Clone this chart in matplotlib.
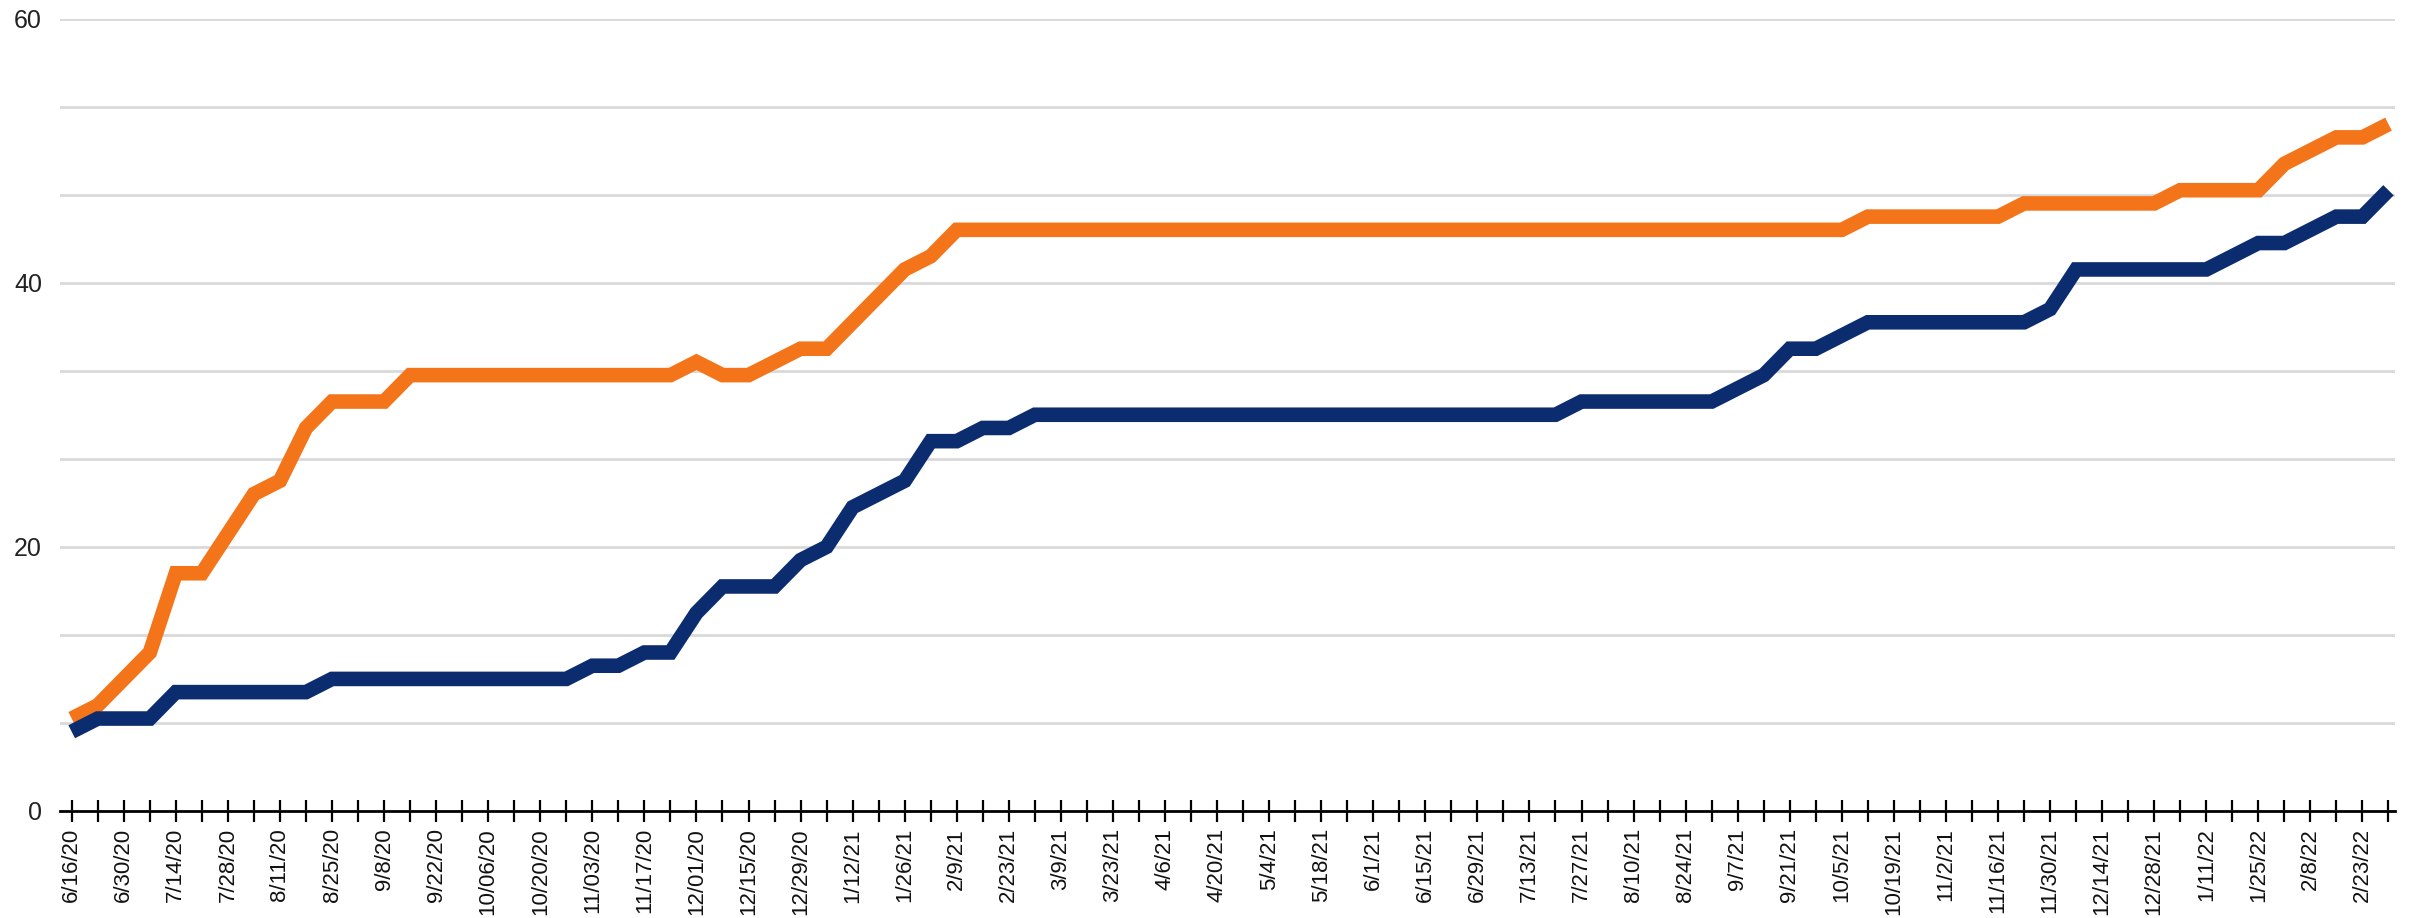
import matplotlib
matplotlib.use("Agg")
import matplotlib.pyplot as plt

plt.rcParams['font.family'] = ['Liberation Sans', 'DejaVu Sans']

# every other week gets a label (categories are weekly)
week_labels = ["6/16/20", "6/30/20", "7/14/20", "7/28/20", "8/11/20", "8/25/20",
               "9/8/20", "9/22/20", "10/06/20", "10/20/20", "11/03/20", "11/17/20",
               "12/01/20", "12/15/20", "12/29/20", "1/12/21", "1/26/21", "2/9/21",
               "2/23/21", "3/9/21", "3/23/21", "4/6/21", "4/20/21", "5/4/21",
               "5/18/21", "6/1/21", "6/15/21", "6/29/21", "7/13/21", "7/27/21",
               "8/10/21", "8/24/21", "9/7/21", "9/21/21", "10/5/21", "10/19/21",
               "11/2/21", "11/16/21", "11/30/21", "12/14/21", "12/28/21", "1/11/22",
               "1/25/22", "2/8/22", "2/23/22"]

orange_vals = [7, 8, 10, 12, 18, 18, 21, 24, 25, 29, 31, 31, 31,
               33, 33, 33, 33, 33, 33, 33, 33, 33, 33, 33,
               34, 33, 33, 34, 35, 35, 37, 39, 41, 42,
               44, 44, 44, 44, 44, 44, 44, 44, 44, 44, 44, 44,
               44, 44, 44, 44, 44, 44, 44, 44, 44, 44, 44, 44,
               44, 44, 44, 44, 44, 44, 44, 44, 44, 44, 44,
               45, 45, 45, 45, 45, 45,
               46, 46, 46, 46, 46, 46,
               47, 47, 47, 47,
               49, 50, 51, 51, 52]

blue_vals = [6, 7, 7, 7, 9, 9, 9, 9, 9, 9,
             10, 10, 10, 10, 10, 10, 10, 10, 10, 10,
             11, 11, 12, 12, 15, 17, 17, 17, 19, 20, 23, 24, 25, 28, 28, 29, 29,
             30, 30, 30, 30, 30, 30, 30, 30, 30, 30, 30,
             30, 30, 30, 30, 30, 30, 30, 30, 30, 30,
             31, 31, 31, 31, 31, 31,
             32, 33, 35, 35, 36,
             37, 37, 37, 37, 37, 37, 37,
             38, 41, 41, 41, 41, 41, 41,
             42, 43, 43, 44, 45, 45, 47]

x = list(range(len(orange_vals)))
tick_text = []
for i in x:
    if i % 2 == 0 and i // 2 < len(week_labels):
        tick_text.append(week_labels[i // 2])
    else:
        tick_text.append("")

fig = plt.figure(figsize=(24.12, 9.18), dpi=100)
ax = fig.add_axes([60 / 2412, (918 - 811) / 918, (2395 - 60) / 2412, (811 - 18.5) / 918])

ax.plot(x, orange_vals, color='#F47419', lw=10.5, solid_joinstyle='miter', solid_capstyle='butt', zorder=3)
ax.plot(x, blue_vals, color='#0C2C70', lw=10.5, solid_joinstyle='miter', solid_capstyle='butt', zorder=4)

ax.set_xlim(-0.45, 89.25)
ax.set_ylim(0, 60)

# gridlines every 60/9, labels only on 0/20/40/60
grid_vals = [i * 60 / 9 for i in range(10)]
ax.set_yticks(grid_vals)
ax.set_yticklabels(["0", "", "", "20", "", "", "40", "", "", "60"])
ax.yaxis.grid(True, color='#D9D9D9', lw=2)
ax.tick_params(axis='y', length=0, labelsize=18, pad=13, labelcolor='#222222')

ax.set_xticks(x)
ax.set_xticklabels(tick_text, rotation=90, ha='center', va='top')
ax.tick_params(axis='x', direction='inout', length=16.5, width=1.6, color='black',
               labelsize=16, pad=4, labelcolor='#111111')

for side in ['left', 'right', 'top']:
    ax.spines[side].set_visible(False)
ax.spines['bottom'].set_color('black')
ax.spines['bottom'].set_linewidth(2)
ax.set_axisbelow(True)

fig.savefig("out.png", dpi=100, facecolor='white')
